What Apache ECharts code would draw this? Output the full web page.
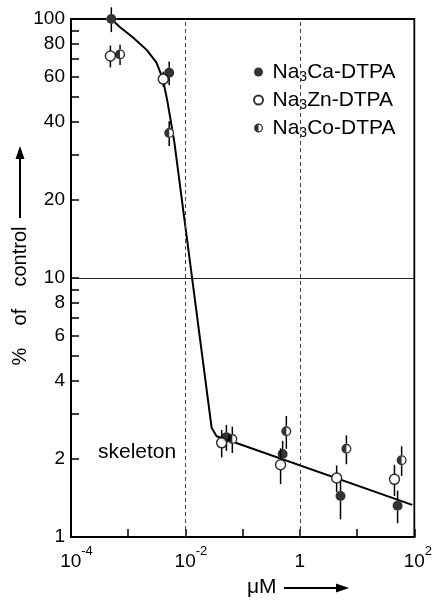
<!DOCTYPE html>
<html>
<head>
<meta charset="utf-8">
<script src="https://cdn.jsdelivr.net/npm/echarts@6/dist/echarts.min.js"></script>
<style>html,body{margin:0;padding:0;background:#fff}#c{width:435px;height:601px}</style>
</head>
<body>
<div id="c"></div>
<script>
// ---- data ----
const seriesNames = ['Na3Ca-DTPA', 'Na3Zn-DTPA', 'Na3Co-DTPA'];
// Na3Ca-DTPA (filled)
const xCa = [5.07e-4, 5.2e-3, 0.052, 0.50, 5.13, 51];
const yCa = [100, 62, 2.43, 2.09, 1.44, 1.32];
const eCa = [11, 6.5, 0.28, 0.26, 0.27, 0.19];
// Na3Zn-DTPA (open)
const xZn = [4.88e-4, 4.1e-3, 0.043, 0.46, 4.39, 45];
const yZn = [72, 58.6, 2.31, 1.90, 1.69, 1.67];
const eZn = [7, 4, 0.28, 0.30, 0.20, 0.23];
// Na3Co-DTPA (half filled)
const xCo = [7.2e-4, 5.2e-3, 0.066, 0.58, 6.5, 60];
const yCo = [73, 36.3, 2.39, 2.56, 2.19, 1.98];
const eCo = [6.5, 4, 0.28, 0.37, 0.28, 0.26];
// fitted curve
const fitX = [5.07e-4, 7.2e-4, 1.2e-3, 2.1e-3, 3.1e-3, 4.0e-3, 4.8e-3, 6.4e-3, 0.0287, 0.035, 0.052, 92];
const fitY = [100, 93, 85, 76, 68, 59, 48.6, 33.5, 2.64, 2.45, 2.38, 1.33];
// axes
const xTickVals = [1e-4, 1e-3, 1e-2, 1e-1, 1, 10, 100];
const xLabelVals = [1e-4, 1e-2, 1, 100];
const yTickVals = [1, 2, 3, 4, 5, 6, 7, 8, 9, 10, 20, 30, 40, 50, 60, 70, 80, 90, 100];
const yLabelVals = [1, 2, 4, 6, 8, 10, 20, 40, 60, 80, 100];
const gridX = [0.01, 1];
const gridY = [10];
const annotation = 'skeleton';
const yTitle = '%    of    control';
const xTitle = 'μM';

// ---- chart ----
const FONT = '"Liberation Sans", Arial, sans-serif';
const zip = (xs, ys) => xs.map((x, i) => [x, ys[i]]);
const zip3 = (xs, ys, es) => xs.map((x, i) => [x, ys[i], es[i]]);
const halfPath = 'path://M10,0A10,10 0 1,1 10,20A10,10 0 1,1 10,0Z M10,2.8A7.2,7.2 0 1,0 10,17.2A7.2,7.2 0 1,0 10,2.8Z M10,2.8A7.2,7.2 0 0,0 10,17.2Z';

const errData = [].concat(zip3(xCa, yCa, eCa), zip3(xZn, yZn, eZn), zip3(xCo, yCo, eCo));

const chart = echarts.init(document.getElementById('c'), null, {renderer: 'canvas'});
chart.setOption({
  animation: false,
  backgroundColor: '#fff',
  textStyle: {fontFamily: FONT, color: '#000'},
  grid: {left: 71, right: 16, top: 19, bottom: 64, show: true, borderColor: '#000', borderWidth: 1.8, backgroundColor: 'transparent'},
  legend: {
    orient: 'vertical', left: 249, top: 58, itemWidth: 18, itemHeight: 9, itemGap: 4,
    padding: [2, 4], backgroundColor: '#fff',
    data: seriesNames,
    formatter: name => name.replace('3', '{s|3}'),
    textStyle: {fontFamily: FONT, fontSize: 21, color: '#000', lineHeight: 24,
      rich: {s: {fontFamily: FONT, fontSize: 14, verticalAlign: 'bottom', lineHeight: 24, padding: [10, 0, 0, 0]}}}
  },
  xAxis: {
    type: 'log', logBase: 10, min: 1e-4, max: 100,
    axisLine: {lineStyle: {color: '#000', width: 2}},
    axisTick: {inside: true, length: 8, lineStyle: {color: '#000', width: 1.5}, customValues: xTickVals},
    splitLine: {show: false}, minorTick: {show: false},
    axisLabel: {
      customValues: xLabelVals, margin: 8, color: '#000',
      formatter: v => {
        const e = Math.round(Math.log10(v));
        if (e === 0) return '{b|1}';
        return (e < 0 ? '{padn|}' : '{padp|}') + '{b|10}{sup|' + (e < 0 ? '-' : '') + Math.abs(e) + '}';
      },
      rich: {
        b: {fontFamily: FONT, fontSize: 19, color: '#000', lineHeight: 26, verticalAlign: 'bottom'},
        sup: {fontFamily: FONT, fontSize: 13, color: '#000', lineHeight: 26, verticalAlign: 'top'},
        padn: {width: 11}, padp: {width: 7}
      }
    }
  },
  yAxis: {
    type: 'log', logBase: 10, min: 1, max: 100,
    axisLine: {lineStyle: {color: '#000', width: 2}},
    axisTick: {inside: true, length: 8, lineStyle: {color: '#000', width: 1.5}, customValues: yTickVals},
    splitLine: {show: false}, minorTick: {show: false},
    axisLabel: {customValues: yLabelVals, margin: 6, color: '#000', fontFamily: FONT, fontSize: 19, formatter: v => String(v)}
  },
  graphic: [
    {type: 'text', x: 98, y: 452, z: 50,
      style: {text: annotation, font: '21px ' + FONT, fill: '#000', textVerticalAlign: 'middle',
        backgroundColor: '#fff', padding: [6, 8, 6, 0]}},
    {type: 'text', x: 20, y: 296, rotation: Math.PI / 2,
      style: {text: yTitle, font: '20px ' + FONT, fill: '#000', textAlign: 'center', textVerticalAlign: 'middle'}},
    {type: 'line', shape: {x1: 20, y1: 218, x2: 20, y2: 156}, style: {stroke: '#000', lineWidth: 2}},
    {type: 'polygon', shape: {points: [[20, 146], [15.5, 159], [24.5, 159]]}, style: {fill: '#000'}},
    {type: 'text', x: 247, y: 587,
      style: {text: xTitle, font: '21px ' + FONT, fill: '#000', textVerticalAlign: 'middle'}},
    {type: 'line', shape: {x1: 284, y1: 588, x2: 338, y2: 588}, style: {stroke: '#000', lineWidth: 2}},
    {type: 'polygon', shape: {points: [[349, 588], [336, 583.5], [336, 592.5]]}, style: {fill: '#000'}}
  ],
  series: [
    {
      type: 'line', name: 'fit', data: zip(fitX, fitY), symbol: 'none', z: 1,
      lineStyle: {color: '#000', width: 2}, silent: true,
      markLine: {
        silent: true, symbol: 'none', label: {show: false},
        data: [
          ...gridX.map(v => ({xAxis: v, lineStyle: {color: '#444', width: 1, type: [4, 3]}})),
          ...gridY.map(v => ({yAxis: v, lineStyle: {color: '#222', width: 1, type: 'solid'}}))
        ]
      }
    },
    {
      type: 'custom', name: 'err', z: 2, silent: true, data: errData,
      renderItem: (params, api) => {
        const x = api.value(0), y = api.value(1), e = api.value(2);
        const p = api.coord([x, y]);
        const hi = api.coord([x, y + e]);
        const lo = api.coord([x, y - e]);
        return {type: 'group', children: [
          {type: 'line', shape: {x1: p[0], y1: hi[1], x2: p[0], y2: lo[1]}, style: {stroke: '#000', lineWidth: 1.5}},
          {type: 'circle', shape: {cx: p[0], cy: p[1], r: 5}, style: {fill: '#fff'}}
        ]};
      }
    },
    {type: 'scatter', name: seriesNames[0], data: zip(xCa, yCa), symbol: 'circle', symbolSize: 10, z: 3,
      itemStyle: {color: '#000'}},
    {type: 'scatter', name: seriesNames[1], data: zip(xZn, yZn), symbol: 'circle', symbolSize: 10, z: 3,
      itemStyle: {color: '#fff', borderColor: '#000', borderWidth: 1.5}},
    {type: 'scatter', name: seriesNames[2], data: zip(xCo, yCo), symbol: halfPath, symbolSize: 10, z: 3,
      itemStyle: {color: '#000'}}
  ]
});
</script>
</body>
</html>
